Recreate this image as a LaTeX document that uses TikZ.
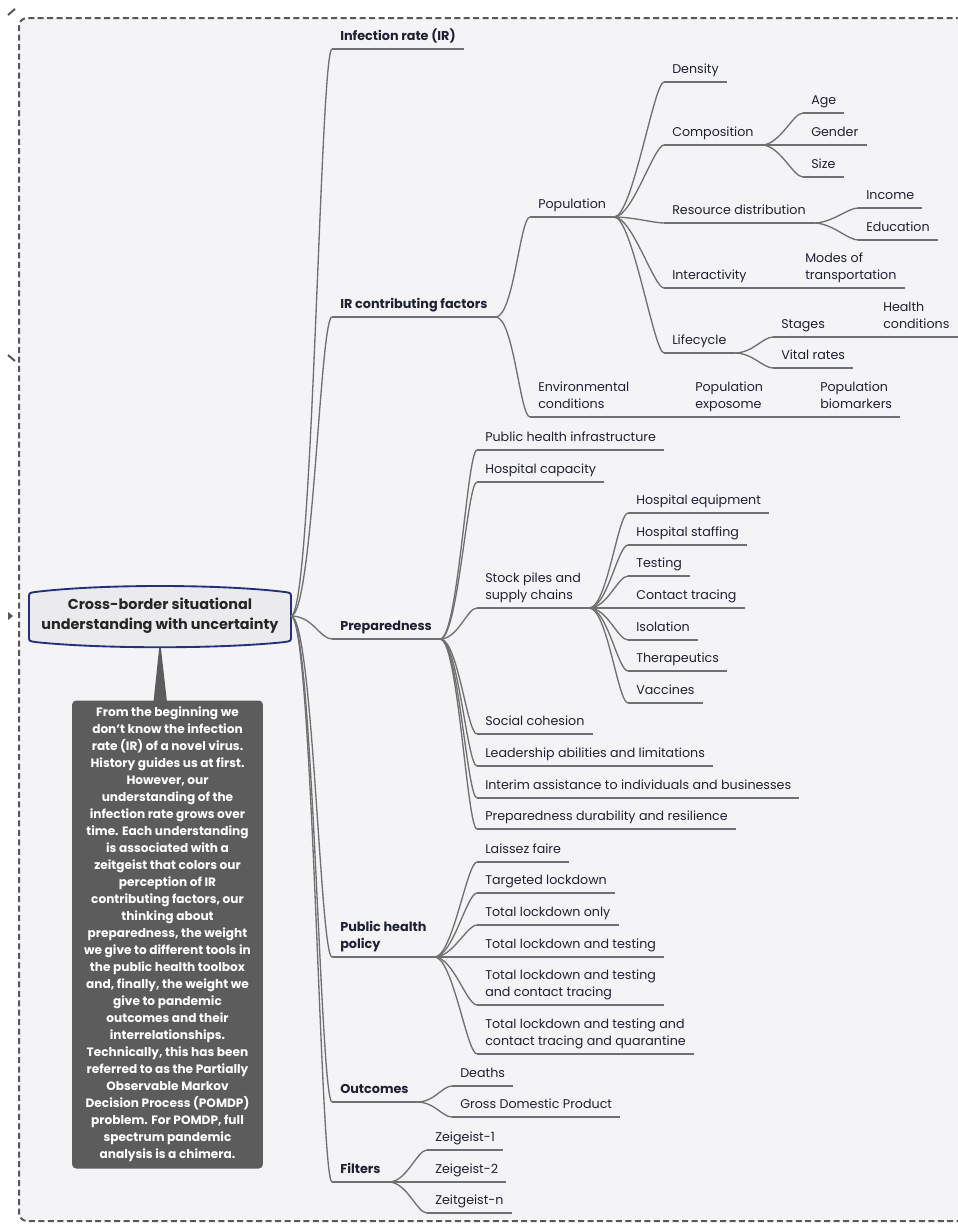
\documentclass[tikz,border=0pt]{standalone}
\usepackage{fontspec}
\setmainfont{Poppins}
\usetikzlibrary{positioning}
\definecolor{panelbg}{RGB}{244,244,246}
\definecolor{framegray}{RGB}{88,88,88}
\definecolor{linegray}{RGB}{112,112,112}
\definecolor{ink}{RGB}{30,32,52}
\definecolor{rootnavy}{RGB}{35,48,122}
\definecolor{rootfill}{RGB}{235,235,238}
\definecolor{notegray}{RGB}{92,92,92}

\begin{document}
\begin{tikzpicture}[
    x=0.75pt, y=-0.75pt,
    topic/.style={anchor=south west, inner xsep=6pt, inner ysep=3.5pt, text depth=2.5pt, align=left, text=ink, font=\fontsize{9.5}{12.75}\selectfont},
    major/.style={topic, font=\fontsize{9.6}{12.75}\selectfont\bfseries},
    link/.style={draw=linegray, line width=1pt},
    rootline/.style={draw=rootnavy, line width=1.4pt, fill=rootfill},
    note/.style={fill=notegray, rounded corners=3pt, text=white, align=center, font=\fontsize{9.1}{12.75}\selectfont\bfseries}
]

\useasboundingbox (0,0) rectangle (957,1224);
\fill[white] (0,0) rectangle (957,1224);
\draw[draw=framegray, line width=1.5pt, dash pattern=on 4.5pt off 2.6pt, fill=panelbg, rounded corners=6pt] (962,18) -- (19,18) -- (19,1221) -- (962,1221);

% bits at the left edge
\draw[framegray, line width=1.5pt] (8,15) -- (15,9);
\draw[framegray, line width=1.5pt] (8,355) -- (15,361);
\fill[framegray] (8,612) -- (13,616) -- (8,620) -- cycle;

% Callout
\fill[notegray] (160,640) -- (153.5,702) -- (167,702) -- cycle;
\node[note, minimum width=143pt, minimum height=351pt] (note) at (167.5,934.5) {From the beginning we\\don't know the infection\\rate (IR) of a novel virus.\\History guides us at first.\\However, our\\understanding of the\\infection rate grows over\\time. Each understanding\\is associated with a\\zeitgeist that colors our\\perception of IR\\contributing factors, our\\thinking about\\preparedness, the weight\\we give to different tools in\\the public health toolbox\\and, finally, the weight we\\give to pandemic\\outcomes and their\\interrelationships.\\Technically, this has been\\referred to as the Partially\\Observable Markov\\Decision Process (POMDP)\\problem. For POMDP, full\\spectrum pandemic\\analysis is a chimera.};

% Root
\draw[rootline] (35,592) .. controls (100,584) and (220,584) .. (285,592) .. controls (291,593) .. (291,598) -- (291,636) .. controls (291,641) .. (285,642) .. controls (220,649) and (100,649) .. (35,642) .. controls (29,641) .. (29,636) -- (29,598) .. controls (29,593) .. (35,592) -- cycle;
\node[font=\fontsize{10.8}{15}\selectfont\bfseries, text=black!85, align=center, minimum width=196pt, minimum height=40pt] (root) at (160,616) {Cross-border situational\\understanding with uncertainty};

% Level 1
\node[major] (inf) at (332,49) {Infection rate (IR)};
\node[major] (irc) at (332,317) {IR contributing factors};
\node[major] (prep) at (332,639) {Preparedness};
\node[major] (php) at (332,957) {Public health\\policy};
\node[major] (outc) at (332,1102) {Outcomes};
\node[major] (filt) at (332,1182) {Filters};

% IR contributing factors
\node[topic] (pop) at (530,217) {Population};
\node[topic] (env) at (530,417) {Environmental\\conditions};
\node[topic] (dens) at (664,82) {Density};
\node[topic] (comp) at (664,145) {Composition};
\node[topic] (age) at (803,113) {Age};
\node[topic] (gend) at (803,145) {Gender};
\node[topic] (size) at (803,177) {Size};
\node[topic] (res) at (664,223) {Resource distribution};
\node[topic] (inc) at (858,208) {Income};
\node[topic] (edu) at (858,240) {Education};
\node[topic] (inter) at (664,288) {Interactivity};
\node[topic] (modes) at (797,288) {Modes of\\transportation};
\node[topic] (life) at (664,353) {Lifecycle};
\node[topic] (stag) at (773,337) {Stages};
\node[topic] (hcond) at (875,337) {Health\\conditions};
\node[topic] (vital) at (773,368) {Vital rates};
\node[topic] (expo) at (687,417) {Population\\exposome};
\node[topic] (biom) at (812,417) {Population\\biomarkers};

% Preparedness
\node[topic] (phi) at (477,450) {Public health infrastructure};
\node[topic] (hcap) at (477,482) {Hospital capacity};
\node[topic] (stock) at (477,608) {Stock piles and\\supply chains};
\node[topic] (heq) at (628,513) {Hospital equipment};
\node[topic] (hst) at (628,545) {Hospital staffing};
\node[topic] (test) at (628,576) {Testing};
\node[topic] (ctr) at (628,608) {Contact tracing};
\node[topic] (iso) at (628,640) {Isolation};
\node[topic] (ther) at (628,671) {Therapeutics};
\node[topic] (vacc) at (628,703) {Vaccines};
\node[topic] (soc) at (477,734) {Social cohesion};
\node[topic] (lead) at (477,766) {Leadership abilities and limitations};
\node[topic] (interim) at (477,798) {Interim assistance to individuals and businesses};
\node[topic] (dur) at (477,829) {Preparedness durability and resilience};

% Public health policy
\node[topic] (laiss) at (477,862) {Laissez faire};
\node[topic] (targ) at (477,893) {Targeted lockdown};
\node[topic] (tlo) at (477,925) {Total lockdown only};
\node[topic] (tlt) at (477,957) {Total lockdown and testing};
\node[topic] (tltc) at (477,1005) {Total lockdown and testing\\and contact tracing};
\node[topic] (tltcq) at (477,1054) {Total lockdown and testing and\\contact tracing and quarantine};

% Outcomes and filters
\node[topic] (deaths) at (452,1086) {Deaths};
\node[topic] (gdp) at (452,1117) {Gross Domestic Product};
\node[topic] (z1) at (427,1150) {Zeigeist-1};
\node[topic] (z2) at (427,1182) {Zeigeist-2};
\node[topic] (zn) at (427,1213) {Zeitgeist-n};

% underlines
\foreach \n in {inf,irc,prep,php,outc,filt,pop,env,dens,comp,age,gend,size,res,inc,edu,inter,modes,life,stag,hcond,vital,expo,biom,phi,hcap,stock,heq,hst,test,ctr,iso,ther,vacc,soc,lead,interim,dur,laiss,targ,tlo,tlt,tltc,tltcq,deaths,gdp,z1,z2,zn}
  \draw[link] (\n.south west) -- (\n.south east);

% branches
\foreach \c in {inf,irc,prep,php,outc,filt}
  \draw[link] (root.east) .. controls +(22,0) and +(-12,0) .. (\c.south west);
\foreach \c in {pop,env}
  \draw[link] (irc.south east) .. controls +(18,0) and +(-10,0) .. (\c.south west);
\foreach \c in {dens,comp,res,inter,life}
  \draw[link] (pop.south east) .. controls +(18,0) and +(-10,0) .. (\c.south west);
\foreach \c in {age,gend,size}
  \draw[link] (comp.south east) .. controls +(18,0) and +(-10,0) .. (\c.south west);
\foreach \c in {inc,edu}
  \draw[link] (res.south east) .. controls +(18,0) and +(-10,0) .. (\c.south west);
\foreach \c in {stag,vital}
  \draw[link] (life.south east) .. controls +(18,0) and +(-10,0) .. (\c.south west);
\draw[link] (inter.south east) -- (modes.south west);
\draw[link] (stag.south east) -- (hcond.south west);
\draw[link] (env.south east) -- (expo.south west);
\draw[link] (expo.south east) -- (biom.south west);
\foreach \c in {phi,hcap,stock,soc,lead,interim,dur}
  \draw[link] (prep.south east) .. controls +(18,0) and +(-10,0) .. (\c.south west);
\foreach \c in {heq,hst,test,ctr,iso,ther,vacc}
  \draw[link] (stock.south east) .. controls +(18,0) and +(-10,0) .. (\c.south west);
\foreach \c in {laiss,targ,tlo,tlt,tltc,tltcq}
  \draw[link] (php.south east) .. controls +(18,0) and +(-10,0) .. (\c.south west);
\foreach \c in {deaths,gdp}
  \draw[link] (outc.south east) .. controls +(18,0) and +(-10,0) .. (\c.south west);
\foreach \c in {z1,z2,zn}
  \draw[link] (filt.south east) .. controls +(18,0) and +(-10,0) .. (\c.south west);

\end{tikzpicture}
\end{document}
